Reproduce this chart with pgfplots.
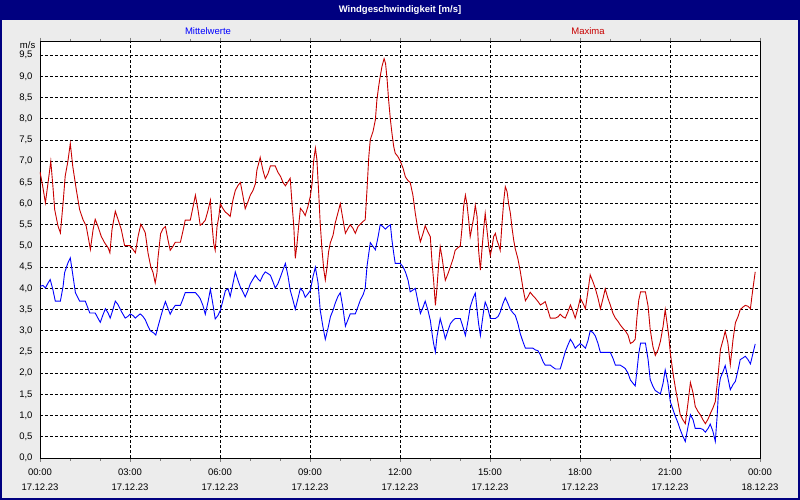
\documentclass[border=0pt]{standalone}
\usepackage{pgfplots}
\pgfplotsset{compat=1.18}
\usepackage{fontspec}
\setmainfont{Liberation Sans}
\definecolor{bgcol}{RGB}{236,236,236}
\definecolor{navy}{RGB}{0,0,128}
\definecolor{mblue}{RGB}{0,0,255}
\definecolor{mred}{RGB}{200,0,0}

\begin{document}
\begin{tikzpicture}[x=1pt,y=1pt]
\fill[bgcol] (0,0) rectangle (800,500);
\fill[navy] (0,480) rectangle (800,500);
\draw[navy,line width=2pt] (1,1) rectangle (799,499);
\node[white,font=\bfseries\fontsize{9.5}{11}\selectfont] at (400,490) {Windgeschwindigkeit [m/s]};
\node[mblue,font=\fontsize{9.5}{11}\selectfont] at (208,469) {Mittelwerte};
\node[mred,font=\fontsize{9.5}{11}\selectfont] at (588,469) {Maxima};
\node[anchor=east,inner sep=0pt,font=\fontsize{9.5}{11}\selectfont] at (35.5,454.5) {m/s};
\begin{axis}[
  at={(40pt,42pt)}, anchor=south west,
  width=720pt, height=416.3pt, scale only axis,
  axis background/.style={fill=white},
  xmin=0, xmax=24, ymin=0, ymax=9.82,
  xtick={0,3,6,9,12,15,18,21,24},
  xticklabels={00:00\\17.12.23,03:00\\17.12.23,06:00\\17.12.23,09:00\\17.12.23,12:00\\17.12.23,15:00\\17.12.23,18:00\\17.12.23,21:00\\17.12.23,00:00\\18.12.23},
  minor x tick num=2,
  ytick={0,0.5,...,9.5},
  yticklabel style={/pgf/number format/.cd,fixed,fixed zerofill,precision=1,use comma,assume math mode=true},
  ticklabel style={font=\fontsize{9.5}{15}\selectfont},
  xticklabel style={align=center,yshift=-3pt},
  tick align=outside,
  major tick length=4pt, minor tick length=3pt,
  y tick style={draw=none},
  grid=major,
  major grid style={black,line width=0.8pt,dash pattern=on 3pt off 2pt},
  axis line style={black,line width=0.9pt},
  every axis plot/.append style={line width=0.9pt},
]
\addplot[mred] coordinates {
(0.00,6.75)(0.09,6.41)(0.18,6.02)(0.27,6.5)(0.36,7.0)(0.43,6.41)(0.49,5.86)(0.60,5.47)(0.68,5.31)(0.77,6.02)
(0.84,6.65)(0.93,7.0)(1.01,7.42)(1.09,6.89)(1.21,6.33)(1.32,5.86)(1.43,5.63)(1.54,5.47)(1.66,5.0)(1.68,4.92)
(1.77,5.39)(1.84,5.63)(1.93,5.47)(2.04,5.23)(2.16,5.07)(2.27,4.96)(2.33,4.84)(2.40,5.39)(2.51,5.82)(2.60,5.63)
(2.71,5.39)(2.82,5.01)(2.99,5.01)(3.10,4.92)(3.18,4.84)(3.27,5.23)(3.36,5.51)(3.43,5.43)(3.51,5.31)(3.60,4.84)
(3.69,4.52)(3.77,4.37)(3.84,4.13)(3.90,4.37)(3.93,4.70)(4.02,5.29)(4.10,5.41)(4.18,5.46)(4.27,5.13)(4.34,4.90)
(4.43,4.99)(4.51,5.09)(4.68,5.09)(4.77,5.37)(4.84,5.61)(5.01,5.61)(5.10,5.92)(5.18,6.20)(5.27,5.84)(5.34,5.49)
(5.43,5.54)(5.51,5.61)(5.60,5.84)(5.68,6.08)(5.73,5.53)(5.79,5.06)(5.84,4.90)(5.90,5.45)(5.96,5.69)(6.01,6.00)
(6.10,5.88)(6.18,5.80)(6.27,5.75)(6.34,5.70)(6.43,6.08)(6.51,6.31)(6.60,6.43)(6.68,6.50)(6.77,6.16)(6.84,5.88)
(6.93,6.04)(7.01,6.20)(7.10,6.31)(7.18,6.47)(7.23,6.79)(7.34,7.09)(7.43,6.79)(7.51,6.59)(7.60,6.71)(7.68,6.89)
(7.84,6.89)(7.93,6.74)(8.02,6.64)(8.10,6.50)(8.18,6.42)(8.27,6.52)(8.34,6.60)(8.40,6.01)(8.46,5.46)(8.51,4.71)
(8.57,5.07)(8.62,5.46)(8.68,5.89)(8.77,5.81)(8.84,5.72)(8.93,5.93)(9.01,6.17)(9.07,6.48)(9.12,7.0)(9.18,7.31)
(9.23,7.04)(9.29,6.25)(9.34,5.54)(9.40,4.91)(9.46,4.44)(9.51,4.20)(9.57,4.52)(9.62,4.87)(9.68,5.08)(9.77,5.26)
(9.84,5.54)(9.93,5.78)(10.01,6.00)(10.10,5.62)(10.18,5.30)(10.27,5.42)(10.34,5.50)(10.43,5.42)(10.51,5.30)(10.60,5.46)
(10.68,5.52)(10.77,5.58)(10.84,5.62)(10.90,6.33)(10.96,7.11)(11.01,7.51)(11.10,7.70)(11.18,7.98)(11.23,8.45)(11.29,8.77)
(11.34,9.00)(11.40,9.24)(11.47,9.42)(11.52,9.30)(11.57,8.93)(11.62,8.45)(11.68,7.98)(11.73,7.67)(11.79,7.35)(11.84,7.19)
(11.93,7.11)(12.01,7.00)(12.10,6.84)(12.18,6.63)(12.27,6.54)(12.34,6.50)(12.43,6.20)(12.51,5.77)(12.60,5.37)(12.68,5.10)
(12.77,5.30)(12.84,5.48)(12.93,5.33)(13.01,5.22)(13.07,4.59)(13.12,4.19)(13.18,3.60)(13.23,4.00)(13.29,4.59)(13.34,4.98)
(13.40,4.74)(13.46,4.43)(13.51,4.19)(13.60,4.35)(13.68,4.51)(13.77,4.70)(13.84,4.90)(13.93,4.96)(14.01,5.00)(14.07,5.45)
(14.12,5.93)(14.18,6.20)(14.23,6.00)(14.29,5.61)(14.34,5.22)(14.40,5.45)(14.46,5.69)(14.51,5.96)(14.57,5.69)(14.62,4.90)
(14.68,4.43)(14.73,4.90)(14.79,5.41)(14.84,5.77)(14.90,5.37)(14.96,4.98)(15.01,4.78)(15.07,4.98)(15.12,5.22)(15.18,5.30)
(15.23,5.14)(15.29,5.02)(15.34,4.90)(15.40,5.53)(15.46,6.08)(15.51,6.40)(15.57,6.28)(15.62,6.00)(15.68,5.77)(15.73,5.45)
(15.79,5.14)(15.84,4.94)(15.93,4.70)(16.01,4.40)(16.10,4.00)(16.18,3.71)(16.27,3.81)(16.34,3.91)(16.43,3.83)(16.51,3.77)
(16.60,3.69)(16.68,3.61)(16.77,3.65)(16.84,3.69)(16.93,3.49)(17.01,3.30)(17.18,3.30)(17.27,3.33)(17.34,3.39)(17.43,3.33)
(17.51,3.30)(17.60,3.45)(17.68,3.61)(17.77,3.45)(17.84,3.30)(17.93,3.53)(18.01,3.77)(18.10,3.65)(18.18,3.52)(18.27,3.96)
(18.34,4.32)(18.43,4.16)(18.51,4.00)(18.60,3.77)(18.68,3.52)(18.77,3.77)(18.84,3.99)(18.93,3.77)(19.01,3.61)(19.10,3.41)
(19.18,3.30)(19.27,3.22)(19.34,3.14)(19.43,3.06)(19.51,3.00)(19.60,2.90)(19.68,2.70)(19.77,2.74)(19.84,2.80)(19.90,3.33)
(19.96,3.73)(20.02,3.92)(20.18,3.92)(20.27,3.58)(20.34,3.03)(20.43,2.63)(20.51,2.42)(20.60,2.55)(20.68,2.75)(20.77,3.11)
(20.84,3.50)(20.90,3.19)(20.96,2.87)(21.01,2.48)(21.10,2.00)(21.18,1.65)(21.27,1.30)(21.34,1.02)(21.43,0.90)(21.51,0.81)
(21.60,1.30)(21.68,1.78)(21.77,1.53)(21.84,1.22)(21.93,1.10)(22.01,1.02)(22.10,0.90)(22.18,0.81)(22.27,0.92)(22.34,1.04)
(22.43,1.18)(22.51,1.33)(22.60,1.93)(22.68,2.56)(22.77,2.79)(22.84,2.99)(22.93,2.71)(23.01,2.20)(23.10,2.79)(23.18,3.19)
(23.27,3.34)(23.34,3.50)(23.43,3.56)(23.51,3.60)(23.60,3.58)(23.68,3.52)(23.73,3.81)(23.79,4.13)(23.84,4.39)
};
\addplot[mblue] coordinates {
(0.00,4.05)(0.10,4.07)(0.18,4.01)(0.27,4.13)(0.34,4.21)(0.43,3.97)(0.51,3.70)(0.68,3.70)(0.77,4.05)(0.82,4.37)
(0.93,4.60)(1.01,4.72)(1.10,4.29)(1.18,3.90)(1.32,3.70)(1.51,3.70)(1.66,3.42)(1.84,3.42)(1.93,3.30)(2.01,3.20)
(2.10,3.38)(2.18,3.52)(2.27,3.42)(2.34,3.30)(2.43,3.50)(2.51,3.70)(2.60,3.62)(2.71,3.46)(2.84,3.30)(2.93,3.34)
(3.01,3.40)(3.10,3.36)(3.18,3.30)(3.27,3.36)(3.34,3.40)(3.43,3.34)(3.51,3.26)(3.60,3.11)(3.68,3.00)(3.79,2.95)
(3.86,2.90)(3.93,3.09)(4.02,3.32)(4.10,3.52)(4.18,3.69)(4.27,3.52)(4.34,3.39)(4.43,3.52)(4.51,3.60)(4.68,3.60)
(4.77,3.76)(4.84,3.90)(5.18,3.90)(5.27,3.83)(5.34,3.76)(5.43,3.60)(5.51,3.39)(5.60,3.68)(5.68,3.98)(5.77,3.60)
(5.84,3.28)(5.93,3.36)(6.01,3.48)(6.10,3.72)(6.18,3.95)(6.27,3.99)(6.34,3.81)(6.43,4.11)(6.51,4.39)(6.60,4.19)
(6.68,4.03)(6.77,3.91)(6.84,3.80)(6.93,3.95)(7.01,4.11)(7.10,4.22)(7.18,4.31)(7.27,4.22)(7.34,4.17)(7.43,4.31)
(7.51,4.39)(7.60,4.35)(7.68,4.31)(7.77,4.15)(7.84,4.01)(7.93,4.11)(8.02,4.28)(8.10,4.44)(8.18,4.59)(8.27,4.28)
(8.34,3.96)(8.43,3.73)(8.51,3.51)(8.60,3.77)(8.68,4.00)(8.77,3.93)(8.84,3.79)(8.93,3.87)(9.01,3.95)(9.10,4.28)
(9.18,4.50)(9.27,4.12)(9.34,3.49)(9.43,3.10)(9.51,2.80)(9.60,3.06)(9.68,3.33)(9.77,3.49)(9.84,3.65)(9.93,3.81)
(10.01,3.90)(10.10,3.53)(10.18,3.11)(10.27,3.27)(10.34,3.40)(10.51,3.40)(10.60,3.57)(10.68,3.73)(10.77,3.85)(10.84,4.00)
(10.90,4.52)(10.96,4.83)(11.01,5.08)(11.10,4.99)(11.18,4.91)(11.27,5.22)(11.34,5.50)(11.43,5.46)(11.51,5.40)(11.60,5.46)
(11.68,5.50)(11.73,5.15)(11.79,4.83)(11.84,4.59)(12.01,4.59)(12.10,4.51)(12.18,4.39)(12.27,4.19)(12.34,3.92)(12.43,3.96)
(12.51,4.00)(12.60,3.68)(12.68,3.41)(12.77,3.56)(12.84,3.70)(12.93,3.49)(13.01,3.25)(13.07,2.93)(13.12,2.70)(13.18,2.50)
(13.23,2.85)(13.29,3.09)(13.34,3.29)(13.40,3.13)(13.46,2.97)(13.51,2.81)(13.60,3.01)(13.68,3.17)(13.77,3.25)(13.84,3.29)
(14.01,3.29)(14.10,3.09)(14.18,2.89)(14.27,3.25)(14.34,3.56)(14.43,3.76)(14.51,3.89)(14.57,3.48)(14.62,3.17)(14.68,2.89)
(14.73,3.17)(14.79,3.48)(14.84,3.68)(14.93,3.52)(15.01,3.29)(15.18,3.29)(15.27,3.34)(15.34,3.44)(15.43,3.64)(15.51,3.78)
(15.60,3.64)(15.68,3.50)(15.77,3.42)(15.84,3.37)(15.93,3.17)(16.01,2.93)(16.10,2.74)(16.18,2.59)(16.43,2.59)(16.51,2.55)
(16.60,2.53)(16.68,2.43)(16.77,2.27)(16.84,2.19)(17.01,2.19)(17.10,2.14)(17.18,2.10)(17.34,2.10)(17.43,2.31)(17.51,2.51)
(17.60,2.67)(17.68,2.80)(17.77,2.70)(17.84,2.59)(17.93,2.65)(18.01,2.70)(18.10,2.65)(18.18,2.59)(18.27,2.78)(18.34,3.00)
(18.43,2.96)(18.51,2.88)(18.60,2.70)(18.68,2.49)(19.01,2.49)(19.10,2.35)(19.18,2.19)(19.34,2.19)(19.43,2.15)(19.51,2.11)
(19.60,2.00)(19.68,1.84)(19.77,1.76)(19.84,1.70)(19.90,2.07)(19.96,2.47)(20.02,2.71)(20.18,2.71)(20.27,2.32)(20.34,1.85)
(20.43,1.69)(20.51,1.59)(20.60,1.55)(20.68,1.51)(20.77,1.77)(20.84,2.08)(20.93,1.77)(21.01,1.33)(21.10,1.14)(21.18,0.98)
(21.27,0.82)(21.34,0.67)(21.43,0.51)(21.51,0.39)(21.60,0.74)(21.68,1.02)(21.77,0.90)(21.84,0.70)(22.01,0.70)(22.10,0.67)
(22.18,0.61)(22.27,0.70)(22.34,0.80)(22.43,0.63)(22.51,0.39)(22.57,0.98)(22.62,1.61)(22.68,1.89)(22.77,2.04)(22.84,2.18)
(22.93,1.89)(23.01,1.61)(23.10,1.73)(23.18,1.81)(23.27,2.08)(23.34,2.32)(23.43,2.36)(23.51,2.40)(23.60,2.32)(23.68,2.22)
(23.77,2.48)(23.84,2.69)
};
\end{axis}
\end{tikzpicture}
\end{document}
